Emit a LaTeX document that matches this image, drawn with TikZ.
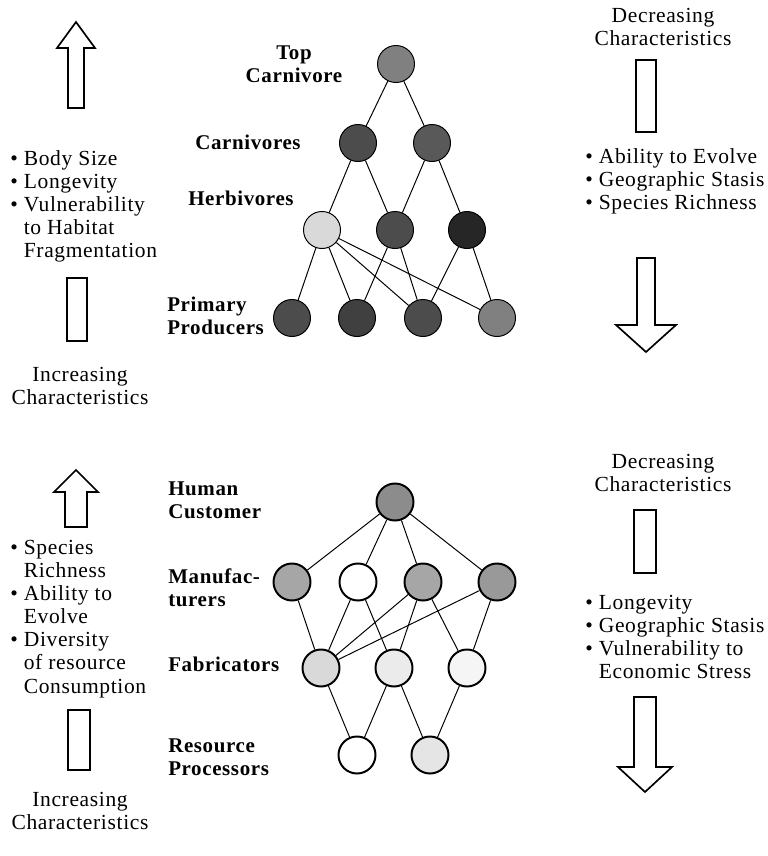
\documentclass[tikz,border=0pt]{standalone}
\usepackage{fontspec}
\setmainfont{Liberation Serif}[LetterSpace=3]
\usetikzlibrary{positioning}
\tikzset{foodnode/.style={draw,circle,inner sep=0,minimum size=0.925cm,line width=0.7pt},
    firmnode/.style={foodnode,line width=1.4pt},
    link/.style={line width=0.7pt},
    level/.style={inner sep=0,align=left,font=\fontsize{14.9pt}{16.4pt}\selectfont\bfseries},
    notes/.style={inner sep=0,align=left},
    trend/.style={inner sep=0,align=center}
}
\newcommand{\hollowarrow}[6]
{
% args: (x of the axis, y of the tip, y of the head base, y of the shaft end, half width of the head, half width of the shaft)
    \draw [line width=1.2pt] (#1-#6,#4) -- (#1-#6,#3) -- (#1-#5,#3) -- (#1,#2)
        -- (#1+#5,#3) -- (#1+#6,#3) -- (#1+#6,#4) -- cycle;
}

\begin{document}
\begin{tikzpicture}[x=0.025cm,y=-0.025cm,font=\fontsize{15.3pt}{16.4pt}\selectfont]
\useasboundingbox (0,0) rectangle (768,856);

% food web
\node (t)  [foodnode,fill=black!50] at (396,64) {};
\node (c1) [foodnode,fill=black!70] at (358,143) {};
\node (c2) [foodnode,fill=black!65] at (432,143) {};
\node (h1) [foodnode,fill=black!15] at (322,230) {};
\node (h2) [foodnode,fill=black!70] at (395,230) {};
\node (h3) [foodnode,fill=black!85] at (467,230) {};
\node (p1) [foodnode,fill=black!70] at (292,318) {};
\node (p2) [foodnode,fill=black!75] at (357,318) {};
\node (p3) [foodnode,fill=black!70] at (423,318) {};
\node (p4) [foodnode,fill=black!50] at (497,318) {};

\foreach \a/\b in {t/c1,t/c2,c1/h1,c1/h2,c2/h2,c2/h3,
    h1/p1,h1/p2,h1/p3,h1/p4,h2/p2,h2/p3,h3/p3,h3/p4}
    \draw [link] (\a) -- (\b);

\node [level,align=center] at (294,64) {Top\\Carnivore};
\node [level,anchor=west] at (195,142) {Carnivores};
\node [level,anchor=west] at (188,198) {Herbivores};
\node [level,anchor=west] at (167,316) {Primary\\Producers};

% supply web
\node (hc) [firmnode,fill=black!45] at (395,502) {};
\node (m1) [firmnode,fill=black!35] at (292,582) {};
\node (m2) [firmnode,fill=white]    at (358,582) {};
\node (m3) [firmnode,fill=black!35] at (423,582) {};
\node (m4) [firmnode,fill=black!40] at (497,582) {};
\node (f1) [firmnode,fill=black!15] at (321,668) {};
\node (f2) [firmnode,fill=black!8]  at (394,668) {};
\node (f3) [firmnode,fill=black!4]  at (467,668) {};
\node (r1) [firmnode,fill=white]    at (357,755) {};
\node (r2) [firmnode,fill=black!10] at (430,755) {};

\foreach \a/\b in {hc/m1,hc/m2,hc/m3,hc/m4,m1/f1,m2/f1,m2/f2,
    m3/f1,m3/f2,m3/f3,m4/f1,m4/f3,f1/r1,f2/r1,f2/r2,f3/r2}
    \draw [link] (\a) -- (\b);

\node [level,anchor=west] at (168,500) {Human\\Customer};
\node [level,anchor=west] at (168,588) {Manufac-\\turers};
\node [level,anchor=west] at (168,664) {Fabricators};
\node [level,anchor=west] at (168,757) {Resource\\Processors};

% left column
\hollowarrow{76}{22}{48}{108}{19}{8}
\node [notes,anchor=west] at (10,206)
    {• Body Size\\• Longevity\\• Vulnerability\\\hphantom{• }to Habitat\\\hphantom{• }Fragmentation};
\draw [line width=1.2pt] (67,278) rectangle (87,341);
\node [trend] at (80,386) {Increasing\\Characteristics};

\hollowarrow{76}{470}{492}{527}{22}{11}
\node [notes,anchor=west] at (10,619)
    {• Species\\\hphantom{• }Richness\\• Ability to\\\hphantom{• }Evolve\\• Diversity\\\hphantom{• }of resource\\\hphantom{• }Consumption};
\draw [line width=1.2pt] (68,710) rectangle (90,770);
\node [trend] at (80,811) {Increasing\\Characteristics};

% right column
\node [trend] at (663,27) {Decreasing\\Characteristics};
\draw [line width=1.2pt] (636,60) rectangle (656,132);
\node [notes,anchor=west] at (585,181)
    {• Ability to Evolve\\• Geographic Stasis\\• Species Richness};
\hollowarrow{646}{352}{325}{258}{30}{9}

\node [trend] at (663,473) {Decreasing\\Characteristics};
\draw [line width=1.2pt] (634,510) rectangle (656,573);
\node [notes,anchor=west] at (585,637)
    {• Longevity\\• Geographic Stasis\\• Vulnerability to\\\hphantom{• }Economic Stress};
\hollowarrow{645}{792}{767}{697}{27}{11}

\end{tikzpicture}
\end{document}
